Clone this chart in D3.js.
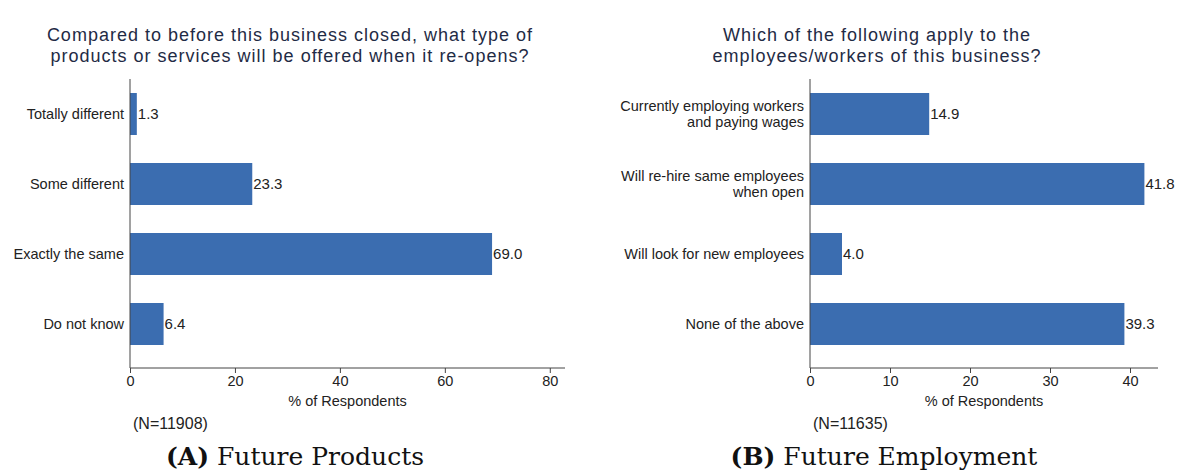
<!DOCTYPE html>
<html>
<head>
<meta charset="utf-8">
<script src="https://cdn.jsdelivr.net/npm/d3@7"></script>
<style>
  body { margin: 0; background: #fff; }
  svg { display: block; font-family: "Liberation Sans", Arial, sans-serif; }
  .axis path, .axis line { stroke: #444; }
  .axis text { fill: #222; font-size: 14.5px; }
</style>
</head>
<body>
<svg id="chart" width="1178" height="473"></svg>
<script>
// Panel A: future products
const productCats = ['Totally different', 'Some different', 'Exactly the same', 'Do not know'];
const productVals = [1.3, 23.3, 69.0, 6.4];
const productTicks = [0, 20, 40, 60, 80];

// Panel B: future employment
const employCats = ['Currently employing workers|and paying wages', 'Will re-hire same employees|when open', 'Will look for new employees', 'None of the above'];
const employVals = [14.9, 41.8, 4.0, 39.3];
const employTicks = [0, 10, 20, 30, 40];

const barColor = '#3b6db0';
const svg = d3.select('#chart');

function drawPanel(opts) {
    const g = svg.append('g');
    const x = d3.scaleLinear().domain([0, opts.xMax]).range([opts.x0, opts.x1]);
    const y = d3.scaleBand().domain(opts.cats).range([79, 359]).paddingInner(0.4).paddingOuter(0.2);
    const axisY = 368;
    const data = opts.cats.map((c, i) => ({ cat: c, v: opts.vals[i] }));

    // title (two lines)
    opts.title.forEach((line, i) => {
        g.append('text')
            .attr('x', opts.titleX)
            .attr('y', 41 + i * 21)
            .attr('text-anchor', 'middle')
            .style('font-size', '18px')
            .style('letter-spacing', '1px')
            .style('fill', '#1f2b45')
            .text(line);
    });

    // bars
    g.selectAll('.bar')
        .data(data)
        .enter()
        .append('rect')
        .attr('x', x(0))
        .attr('y', d => y(d.cat))
        .attr('width', d => x(d.v) - x(0))
        .attr('height', y.bandwidth())
        .attr('fill', barColor);

    // value labels
    g.selectAll('.val')
        .data(data)
        .enter()
        .append('text')
        .attr('x', d => x(d.v) + 1)
        .attr('y', d => y(d.cat) + y.bandwidth() / 2)
        .attr('dy', '0.35em')
        .style('font-size', '15px')
        .style('fill', '#222')
        .text(d => d.v.toFixed(1));

    // category labels
    opts.cats.forEach(c => {
        const lines = c.split('|');
        const lab = g.append('text')
            .attr('text-anchor', 'end')
            .style('font-size', '14.5px')
            .style('fill', '#222');
        const cy = y(c) + y.bandwidth() / 2;
        lines.forEach((ln, i) => {
            lab.append('tspan')
                .attr('x', x(0) - 6)
                .attr('y', cy + (i - (lines.length - 1) / 2) * 16)
                .attr('dy', '0.35em')
                .text(ln);
        });
    });

    // y axis line
    g.append('line')
        .attr('x1', x(0)).attr('x2', x(0))
        .attr('y1', 79).attr('y2', axisY)
        .attr('stroke', '#444');

    // x axis
    g.append('g')
        .attr('class', 'axis')
        .attr('transform', `translate(0,${axisY})`)
        .call(d3.axisBottom(x).tickValues(opts.ticks).tickSizeOuter(0).tickSize(5).tickPadding(3))
        .call(a => a.select('.domain').attr('d', `M${opts.x0},0H${opts.x1}`))
        .selectAll('text').style('font-family', '"Liberation Sans", Arial, sans-serif');

    g.append('text')
        .attr('x', (opts.x0 + opts.x1) / 2)
        .attr('y', 406)
        .attr('text-anchor', 'middle')
        .style('font-size', '14.5px')
        .style('fill', '#222')
        .text('% of Respondents');

    g.append('text')
        .attr('x', x(0) + 3)
        .attr('y', 429)
        .style('font-size', '16px')
        .style('fill', '#222')
        .text(opts.n);

    // caption
    const cap = g.append('text')
        .attr('x', opts.capX)
        .attr('y', 465)
        .attr('text-anchor', 'middle')
        .style('font-family', '"DejaVu Serif", serif')
        .style('font-size', '25px')
        .style('fill', '#111');
    cap.append('tspan').style('font-weight', 'bold').text(opts.capBold);
    cap.append('tspan').text(' ' + opts.capText);
}

drawPanel({
    cats: productCats, vals: productVals, ticks: productTicks,
    xMax: 82.9, x0: 130, x1: 565,
    title: ['Compared to before this business closed, what type of', 'products or services will be offered when it re-opens?'],
    titleX: 290, n: '(N=11908)',
    capX: 295, capBold: '(A)', capText: 'Future Products'
});

drawPanel({
    cats: employCats, vals: employVals, ticks: employTicks,
    xMax: 43.5, x0: 810, x1: 1158,
    title: ['Which of the following apply to the', 'employees/workers of this business?'],
    titleX: 877, n: '(N=11635)',
    capX: 884, capBold: '(B)', capText: 'Future Employment'
});
</script>
</body>
</html>
